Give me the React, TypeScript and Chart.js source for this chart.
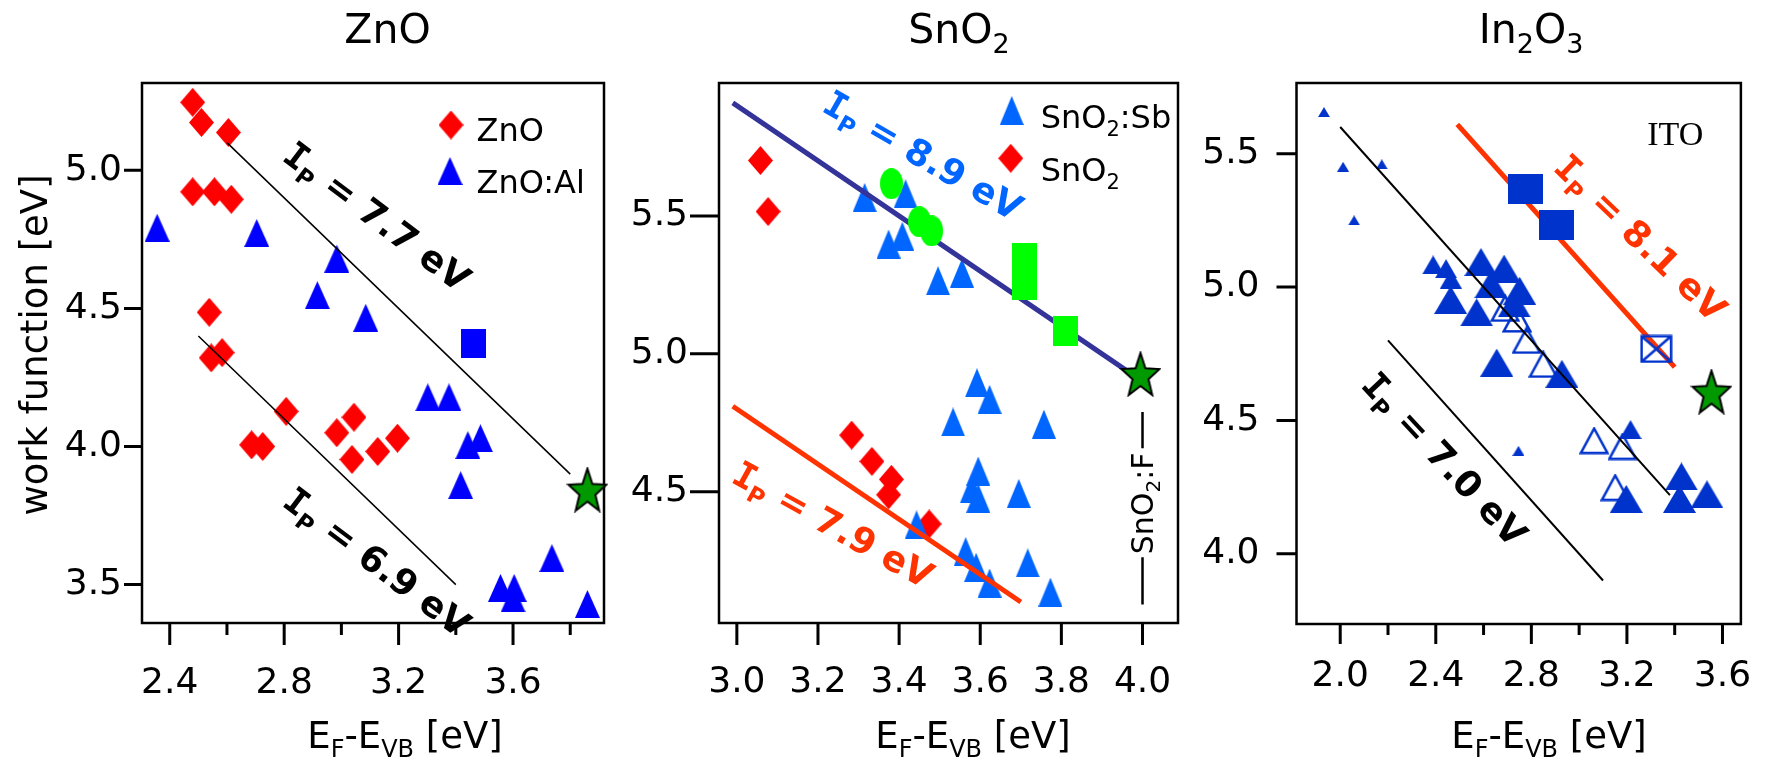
import React, { useEffect, useRef } from 'react';
import { Chart, registerables } from 'chart.js';
Chart.register(...registerables);

const W = 1783;
const H = 761;
const SANS = '"DejaVu Sans", Verdana, sans-serif';
const MONO = '"DejaVu Sans Mono", monospace';
const SERIF = '"Liberation Serif", "Times New Roman", serif';

type Pt = [number, number];

// ---------------- data: ZnO panel ----------------
const ZNO_X_TICKS = [2.4, 2.8, 3.2, 3.6];
const ZNO_X_MINOR = [2.6, 3.0, 3.4, 3.8];
const ZNO_Y_TICKS = [3.5, 4.0, 4.5, 5.0];
const ZNO_PTS: Pt[] = [
  [2.48, 5.246], [2.511, 5.173], [2.605, 5.137], [2.48, 4.922], [2.556, 4.922], [2.615, 4.895],
  [2.538, 4.486], [2.545, 4.321], [2.583, 4.34], [2.686, 4.006], [2.725, 4.0], [2.807, 4.127],
  [2.984, 4.05], [3.044, 4.106], [3.037, 3.953], [3.127, 3.982], [3.196, 4.03],
];
const ZNOAL_PTS: Pt[] = [
  [2.356, 4.792], [2.704, 4.773], [2.984, 4.68], [2.916, 4.548], [3.085, 4.466], [3.302, 4.178],
  [3.376, 4.178], [3.442, 4.005], [3.486, 4.03], [3.417, 3.86], [3.736, 3.596], [3.556, 3.488],
  [3.604, 3.488], [3.6, 3.45], [3.86, 3.43],
];
const ZNO_SQUARE: Pt[] = [[3.462, 4.373]];
const ZNO_STAR: Pt[] = [[3.86, 3.844]];
const ZNO_LINE_77: Pt[] = [[2.6, 5.1], [3.8, 3.9]];
const ZNO_LINE_69: Pt[] = [[2.5, 4.4], [3.4, 3.5]];

// ---------------- data: SnO2 panel ----------------
const SNO_X_TICKS = [3.0, 3.2, 3.4, 3.6, 3.8, 4.0];
const SNO_Y_TICKS = [4.5, 5.0, 5.5];
const SNO2_PTS: Pt[] = [
  [3.058, 5.701], [3.077, 5.516], [3.283, 4.705], [3.333, 4.61], [3.381, 4.545], [3.374, 4.489], [3.474, 4.383],
];
const SNOSB_PTS: Pt[] = [
  [3.315, 5.567], [3.416, 5.58], [3.374, 5.398], [3.408, 5.426], [3.496, 5.265], [3.555, 5.293],
  [3.592, 4.895], [3.623, 4.835], [3.533, 4.753], [3.757, 4.745], [3.595, 4.575], [3.579, 4.51],
  [3.595, 4.477], [3.695, 4.494], [3.443, 4.38], [3.564, 4.283], [3.59, 4.226], [3.623, 4.169],
  [3.717, 4.242], [3.773, 4.136],
];
const SNO_GREEN_DOTS: Pt[] = [[3.381, 5.617], [3.45, 5.479], [3.48, 5.446]];
const SNO_GREEN_TALL: Pt[] = [[3.71, 5.3]];
const SNO_GREEN_SQ: Pt[] = [[3.81, 5.081]];
const SNO_STAR: Pt[] = [[3.995, 4.927]];
const SNO_LINE_89: Pt[] = [[2.99, 5.91], [3.96, 4.94]];
const SNO_LINE_79: Pt[] = [[2.99, 4.81], [3.7, 4.1]];

// ---------------- data: In2O3 panel ----------------
const INO_X_TICKS = [2.0, 2.4, 2.8, 3.2, 3.6];
const INO_X_MINOR = [2.2, 2.6, 3.0, 3.4];
const INO_Y_TICKS = [4.0, 4.5, 5.0, 5.5];
const ITO_SMALL: Pt[] = [[1.932, 5.656], [2.012, 5.451], [2.174, 5.46], [2.058, 5.25], [2.746, 4.386]];
const ITO_MED: Pt[] = [[2.389, 5.083], [2.443, 5.069], [2.463, 5.03], [3.215, 4.466]];
const ITO_BIG: Pt[] = [
  [2.462, 4.952], [2.589, 5.094], [2.686, 5.069], [2.631, 5.011], [2.571, 4.905], [2.751, 4.986],
  [2.728, 4.939], [2.655, 4.717], [2.928, 4.675], [3.428, 4.29], [3.42, 4.206], [3.535, 4.223], [3.197, 4.206],
];
const ITO_OPEN: Pt[] = [[2.69, 4.92], [2.74, 4.88], [2.78, 4.8], [2.85, 4.71], [3.063, 4.424], [3.182, 4.402], [3.151, 4.248]];
const ITO_SQUARES: Pt[] = [[2.777, 5.366], [2.905, 5.232]];
const ITO_XBOX: Pt[] = [[3.323, 4.768]];
const ITO_STAR: Pt[] = [[3.554, 4.608]];
const INO_LINE_76: Pt[] = [[2.0, 5.6], [3.38, 4.22]];
const INO_LINE_70: Pt[] = [[2.2, 4.8], [3.1, 3.9]];
const INO_LINE_81: Pt[] = [[2.49, 5.61], [3.4, 4.7]];

const toXY = (a: Pt[]) => a.map(([x, y]) => ({ x, y }));

// ---------------- marker images ----------------
function mk(w: number, h: number, draw: (g: CanvasRenderingContext2D, w: number, h: number) => void) {
  const c = document.createElement('canvas');
  c.width = w;
  c.height = h;
  const g = c.getContext('2d')!;
  draw(g, w, h);
  return c;
}
function triImg(w: number, h: number, color: string, hollow = false, lw = 2.5) {
  const p = hollow ? lw / 2 + 0.5 : 0;
  return mk(w, h, (g, cw, ch) => {
    g.beginPath();
    g.moveTo(cw / 2, p);
    g.lineTo(cw - p, ch - p);
    g.lineTo(p, ch - p);
    g.closePath();
    if (hollow) {
      g.strokeStyle = color;
      g.lineWidth = lw;
      g.stroke();
    } else {
      g.fillStyle = color;
      g.fill();
    }
  });
}
function diamondImg(w: number, h: number, color: string) {
  return mk(w, h, (g, cw, ch) => {
    g.beginPath();
    g.moveTo(cw / 2, 0);
    g.lineTo(cw, ch / 2);
    g.lineTo(cw / 2, ch);
    g.lineTo(0, ch / 2);
    g.closePath();
    g.fillStyle = color;
    g.fill();
  });
}
function rectImg(w: number, h: number, color: string) {
  return mk(w, h, (g, cw, ch) => {
    g.fillStyle = color;
    g.fillRect(0, 0, cw, ch);
  });
}
function ellipseImg(w: number, h: number, color: string) {
  return mk(w, h, (g, cw, ch) => {
    g.beginPath();
    g.ellipse(cw / 2, ch / 2, cw / 2, ch / 2, 0, 0, Math.PI * 2);
    g.fillStyle = color;
    g.fill();
  });
}
function xboxImg(w: number, h: number, color: string, lw = 2.5) {
  return mk(w, h, (g, cw, ch) => {
    const p = lw / 2 + 0.5;
    g.strokeStyle = color;
    g.lineWidth = lw;
    g.strokeRect(p, p, cw - 2 * p, ch - 2 * p);
    g.beginPath();
    g.moveTo(p, p);
    g.lineTo(cw - p, ch - p);
    g.moveTo(cw - p, p);
    g.lineTo(p, ch - p);
    g.stroke();
  });
}
function starImg(w: number, h: number) {
  return mk(w + 4, h + 4, (g, cw) => {
    const sx = w / 1.902;
    const sy = h / 1.809;
    const cx = cw / 2;
    const cy = 2 + sy;
    g.beginPath();
    for (let i = 0; i < 10; i++) {
      const r = i % 2 === 0 ? 1 : 0.42;
      const a = -Math.PI / 2 + (i * Math.PI) / 5;
      const x = cx + sx * r * Math.cos(a);
      const y = cy + sy * r * Math.sin(a);
      if (i === 0) g.moveTo(x, y);
      else g.lineTo(x, y);
    }
    g.closePath();
    g.fillStyle = '#009900';
    g.fill();
    g.strokeStyle = '#000';
    g.lineWidth = 2;
    g.stroke();
  });
}

// ---------------- text helpers ----------------
type Seg = { t: string; size: number; bold?: boolean; family?: string; dy?: number };
const fontOf = (s: Seg) => `${s.bold ? 'bold ' : ''}${s.size}px ${s.family ?? SANS}`;
function drawSegs(
  ctx: CanvasRenderingContext2D,
  segs: Seg[],
  x: number,
  y: number,
  opts: { align?: 'left' | 'center'; angle?: number; color?: string; shift?: number } = {}
) {
  ctx.save();
  ctx.translate(x, y);
  if (opts.angle) ctx.rotate(opts.angle);
  ctx.fillStyle = opts.color ?? '#000';
  ctx.textBaseline = 'alphabetic';
  ctx.textAlign = 'left';
  let tw = 0;
  for (const s of segs) {
    ctx.font = fontOf(s);
    tw += ctx.measureText(s.t).width;
  }
  let cx = opts.align === 'center' ? -tw / 2 : 0;
  const sh = opts.shift ?? 0;
  for (const s of segs) {
    ctx.font = fontOf(s);
    ctx.fillText(s.t, cx, sh + (s.dy ?? 0));
    cx += ctx.measureText(s.t).width;
  }
  ctx.restore();
}
const ipSegs = (val: string): Seg[] => [
  { t: 'I', size: 36, bold: true, family: MONO },
  { t: 'P', size: 23, bold: true, dy: 8 },
  { t: ' = ' + val + ' eV', size: 36, bold: true },
];
const xTitleSegs: Seg[] = [
  { t: 'E', size: 37 },
  { t: 'F', size: 24, dy: 9 },
  { t: '-E', size: 37 },
  { t: 'VB', size: 24, dy: 9 },
  { t: ' [eV]', size: 37 },
];

// ---------------- panel configuration ----------------
type Ann = { segs: Seg[]; x: number; y: number; angle: number; color: string };
type Leg = { img: HTMLCanvasElement; mx: number; my: number; tx: number; base: number; segs: Seg[] };
type Panel = {
  key: string;
  area: { l: number; t: number; r: number; b: number };
  xr: [number, number];
  yr: [number, number];
  xTicks: number[];
  xMinor: number[];
  yTicks: number[];
  xMajorLen: number;
  xMinorLen: number;
  yTickLen: number;
  xPad: number;
  yPad: number;
  title: Seg[];
  titleX: number;
  xTitleX: number;
  anns: Ann[];
  legend: Leg[];
  extra?: (ctx: CanvasRenderingContext2D, chart: any) => void;
  datasets: any[];
};

const pointDs = (pts: Pt[], img: HTMLCanvasElement, order: number) => ({
  data: toXY(pts),
  pointStyle: img,
  pointRadius: 12,
  order,
  clip: false,
  showLine: false,
});
const lineDs = (pts: Pt[], color: string, width: number, order: number) => ({
  data: toXY(pts),
  showLine: true,
  borderColor: color,
  backgroundColor: color,
  borderWidth: width,
  pointRadius: 0,
  order,
  clip: false,
});

function buildPanels(): Panel[] {
  const red = '#ff0000';
  const blueA = '#0000ff';
  const blueB = '#0066ff';
  const blueC = '#0033cc';
  const green = '#00ff00';
  const orange = '#ff3300';
  const navy = '#333399';

  const dA = diamondImg(25, 29, red);
  const tA = triImg(25, 28, blueA);
  const sqA = rectImg(25, 29, blueA);
  const star = starImg(38, 42);
  const dB = diamondImg(25, 29, red);
  const tB = triImg(24, 29, blueB);
  const elB = ellipseImg(23, 31, green);
  const tallB = rectImg(25, 57, green);
  const sqB = rectImg(25, 30, green);
  const tSmall = triImg(12, 10, blueC);
  const tMed = triImg(22, 19, blueC);
  const tBig = triImg(33, 28, blueC);
  const tOpen = triImg(30, 28, blueC, true, 2.5);
  const sqC = rectImg(35, 30, blueC);
  const xbC = xboxImg(33, 29, blueC, 2.5);

  return [
    {
      key: 'zno',
      area: { l: 142, t: 83, r: 604, b: 623 },
      xr: [2.303, 3.918],
      yr: [3.361, 5.316],
      xTicks: ZNO_X_TICKS,
      xMinor: ZNO_X_MINOR,
      yTicks: ZNO_Y_TICKS,
      xMajorLen: 22,
      xMinorLen: 12,
      yTickLen: 18,
      xPad: 39,
      yPad: 20,
      title: [{ t: 'ZnO', size: 41 }],
      titleX: 387.5,
      xTitleX: 405,
      anns: [
        { segs: ipSegs('7.7'), x: 3.126, y: 4.835, angle: 37, color: '#000' },
        { segs: ipSegs('6.9'), x: 3.126, y: 3.584, angle: 37, color: '#000' },
      ],
      legend: [
        { img: dA, mx: 451, my: 125, tx: 476.5, base: 140.5, segs: [{ t: 'ZnO', size: 32 }] },
        { img: tA, mx: 450, my: 171, tx: 476.5, base: 193, segs: [{ t: 'ZnO:Al', size: 32 }] },
      ],
      extra: (ctx) => {
        drawSegs(ctx, [{ t: 'work function [eV]', size: 37 }], 47, 345, { align: 'center', angle: -Math.PI / 2 });
      },
      datasets: [
        lineDs(ZNO_LINE_77, '#000', 1.5, 0),
        lineDs(ZNO_LINE_69, '#000', 1.5, 0),
        pointDs(ZNO_STAR, star, 1),
        pointDs(ZNO_SQUARE, sqA, 2),
        pointDs(ZNOAL_PTS, tA, 3),
        pointDs(ZNO_PTS, dA, 4),
      ],
    },
    {
      key: 'sno',
      area: { l: 719, t: 83, r: 1178, b: 623 },
      xr: [2.956, 4.0875],
      yr: [4.024, 5.982],
      xTicks: SNO_X_TICKS,
      xMinor: [],
      yTicks: SNO_Y_TICKS,
      xMajorLen: 22,
      xMinorLen: 0,
      yTickLen: 29,
      xPad: 38,
      yPad: 31,
      title: [{ t: 'SnO', size: 41 }, { t: '2', size: 27, dy: 10 }],
      titleX: 959,
      xTitleX: 973,
      anns: [
        { segs: ipSegs('8.9'), x: 3.46, y: 5.722, angle: 30, color: blueB },
        { segs: ipSegs('7.9'), x: 3.238, y: 4.383, angle: 29, color: orange },
      ],
      legend: [
        {
          img: tB, mx: 1011.7, my: 110.5, tx: 1040.7, base: 127.5,
          segs: [{ t: 'SnO', size: 32 }, { t: '2', size: 21, dy: 8 }, { t: ':Sb', size: 32 }],
        },
        {
          img: dB, mx: 1010.7, my: 158.3, tx: 1040.7, base: 180.5,
          segs: [{ t: 'SnO', size: 32 }, { t: '2', size: 21, dy: 8 }],
        },
      ],
      extra: (ctx, chart) => {
        const xs = chart.scales.x;
        const ys = chart.scales.y;
        const px = xs.getPixelForValue(4.0);
        ctx.save();
        ctx.strokeStyle = '#000';
        ctx.lineWidth = 2.5;
        ctx.beginPath();
        ctx.moveTo(px, ys.getPixelForValue(4.789));
        ctx.lineTo(px, ys.getPixelForValue(4.658));
        ctx.moveTo(px, ys.getPixelForValue(4.262));
        ctx.lineTo(px, ys.getPixelForValue(4.091));
        ctx.stroke();
        ctx.restore();
        drawSegs(
          ctx,
          [{ t: 'SnO', size: 30 }, { t: '2', size: 20, dy: 7 }, { t: ':F', size: 30 }],
          px,
          ys.getPixelForValue(4.458),
          { align: 'center', angle: -Math.PI / 2, shift: 0.365 * 30 }
        );
      },
      datasets: [
        pointDs(SNO_STAR, star, 0),
        pointDs(SNO_GREEN_DOTS, elB, 1),
        pointDs(SNO_GREEN_TALL, tallB, 1),
        pointDs(SNO_GREEN_SQ, sqB, 1),
        lineDs(SNO_LINE_89, navy, 5, 2),
        lineDs(SNO_LINE_79, orange, 5, 2),
        pointDs(SNOSB_PTS, tB, 3),
        pointDs(SNO2_PTS, dB, 4),
      ],
    },
    {
      key: 'ino',
      area: { l: 1296.5, t: 83, r: 1761.5, b: 624 },
      xr: [1.817, 3.677],
      yr: [3.737, 5.765],
      xTicks: INO_X_TICKS,
      xMinor: INO_X_MINOR,
      yTicks: INO_Y_TICKS,
      xMajorLen: 20,
      xMinorLen: 11,
      yTickLen: 20,
      xPad: 31,
      yPad: 37,
      title: [
        { t: 'In', size: 41 },
        { t: '2', size: 27, dy: 10 },
        { t: 'O', size: 41 },
        { t: '3', size: 27, dy: 10 },
      ],
      titleX: 1531,
      xTitleX: 1549,
      anns: [
        { segs: ipSegs('8.1'), x: 3.259, y: 5.187, angle: 44, color: orange },
        { segs: ipSegs('7.0'), x: 2.439, y: 4.357, angle: 47, color: '#000' },
      ],
      legend: [],
      extra: (ctx) => {
        drawSegs(ctx, [{ t: 'ITO', size: 34, family: SERIF }], 1647.3, 145);
      },
      datasets: [
        lineDs(INO_LINE_76, '#000', 2, 0),
        lineDs(INO_LINE_70, '#000', 2, 0),
        pointDs(ITO_STAR, star, 1),
        pointDs(ITO_XBOX, xbC, 2),
        pointDs(ITO_SQUARES, sqC, 2),
        lineDs(INO_LINE_81, orange, 5, 3),
        pointDs(ITO_OPEN, tOpen, 4),
        pointDs(ITO_SMALL, tSmall, 5),
        pointDs(ITO_MED, tMed, 5),
        pointDs(ITO_BIG, tBig, 6),
      ],
    },
  ];
}

function panelPlugin(p: Panel) {
  return {
    id: 'panel_' + p.key,
    beforeDatasetsDraw(chart: any) {
      const ctx: CanvasRenderingContext2D = chart.ctx;
      const { left, top, right, bottom } = chart.chartArea;
      const xs = chart.scales.x;
      const ys = chart.scales.y;
      ctx.save();
      ctx.strokeStyle = '#000';
      ctx.lineWidth = 2.5;
      ctx.strokeRect(left, top, right - left, bottom - top);
      ctx.lineWidth = 3;
      ctx.beginPath();
      for (const v of p.xTicks) {
        const x = xs.getPixelForValue(v);
        ctx.moveTo(x, bottom);
        ctx.lineTo(x, bottom + p.xMajorLen);
      }
      for (const v of p.xMinor) {
        const x = xs.getPixelForValue(v);
        ctx.moveTo(x, bottom);
        ctx.lineTo(x, bottom + p.xMinorLen);
      }
      for (const v of p.yTicks) {
        const y = ys.getPixelForValue(v);
        ctx.moveTo(left, y);
        ctx.lineTo(left - p.yTickLen, y);
      }
      ctx.stroke();
      ctx.restore();
    },
    afterDraw(chart: any) {
      const ctx: CanvasRenderingContext2D = chart.ctx;
      const xs = chart.scales.x;
      const ys = chart.scales.y;
      drawSegs(ctx, p.title, p.titleX, 43, { align: 'center' });
      drawSegs(ctx, xTitleSegs, p.xTitleX, 748, { align: 'center' });
      for (const a of p.anns) {
        drawSegs(ctx, a.segs, xs.getPixelForValue(a.x), ys.getPixelForValue(a.y), {
          align: 'center',
          angle: (a.angle * Math.PI) / 180,
          color: a.color,
          shift: 0.365 * 36,
        });
      }
      for (const l of p.legend) {
        ctx.drawImage(l.img, l.mx - l.img.width / 2, l.my - l.img.height / 2);
        drawSegs(ctx, l.segs, l.tx, l.base);
      }
      if (p.extra) p.extra(ctx, chart);
    },
  };
}

function makeChart(canvas: HTMLCanvasElement, p: Panel) {
  const yW = p.area.l;
  const xH = H - p.area.b;
  return new Chart(canvas, {
    type: 'scatter',
    data: { datasets: p.datasets },
    options: {
      responsive: false,
      animation: false,
      devicePixelRatio: 1,
      events: [],
      layout: {
        padding: { left: 0, right: W - p.area.r, top: p.area.t, bottom: 0 },
      },
      plugins: {
        legend: { display: false },
        tooltip: { enabled: false },
        title: { display: false },
      },
      scales: {
        x: {
          type: 'linear',
          position: 'bottom',
          min: p.xr[0],
          max: p.xr[1],
          afterBuildTicks: (s: any) => {
            s.ticks = p.xTicks.map((v) => ({ value: v }));
          },
          afterFit: (s: any) => {
            s.height = xH;
          },
          grid: { display: false, drawTicks: false },
          border: { display: false },
          ticks: {
            color: '#000',
            font: { family: SANS, size: 36 },
            padding: p.xPad,
            autoSkip: false,
            maxRotation: 0,
            minRotation: 0,
            callback: (v: any) => Number(v).toFixed(1),
          },
        },
        y: {
          type: 'linear',
          position: 'left',
          min: p.yr[0],
          max: p.yr[1],
          afterBuildTicks: (s: any) => {
            s.ticks = p.yTicks.map((v) => ({ value: v }));
          },
          afterFit: (s: any) => {
            s.width = yW;
          },
          grid: { display: false, drawTicks: false },
          border: { display: false },
          ticks: {
            color: '#000',
            font: { family: SANS, size: 36 },
            padding: p.yPad,
            autoSkip: false,
            callback: (v: any) => Number(v).toFixed(1),
          },
        },
      },
    } as any,
    plugins: [panelPlugin(p)],
  });
}

export default function App() {
  const r0 = useRef<HTMLCanvasElement>(null);
  const r1 = useRef<HTMLCanvasElement>(null);
  const r2 = useRef<HTMLCanvasElement>(null);

  useEffect(() => {
    const panels = buildPanels();
    const refs = [r0, r1, r2];
    const charts = panels.map((p, i) => makeChart(refs[i].current!, p));
    return () => charts.forEach((c) => c.destroy());
  }, []);

  const cs: React.CSSProperties = { position: 'absolute', left: 0, top: 0, width: W, height: H };
  return (
    <div style={{ position: 'fixed', left: 0, top: 0, width: W, height: H, background: '#fff' }}>
      <canvas ref={r0} width={W} height={H} style={cs} />
      <canvas ref={r1} width={W} height={H} style={cs} />
      <canvas ref={r2} width={W} height={H} style={cs} />
    </div>
  );
}
